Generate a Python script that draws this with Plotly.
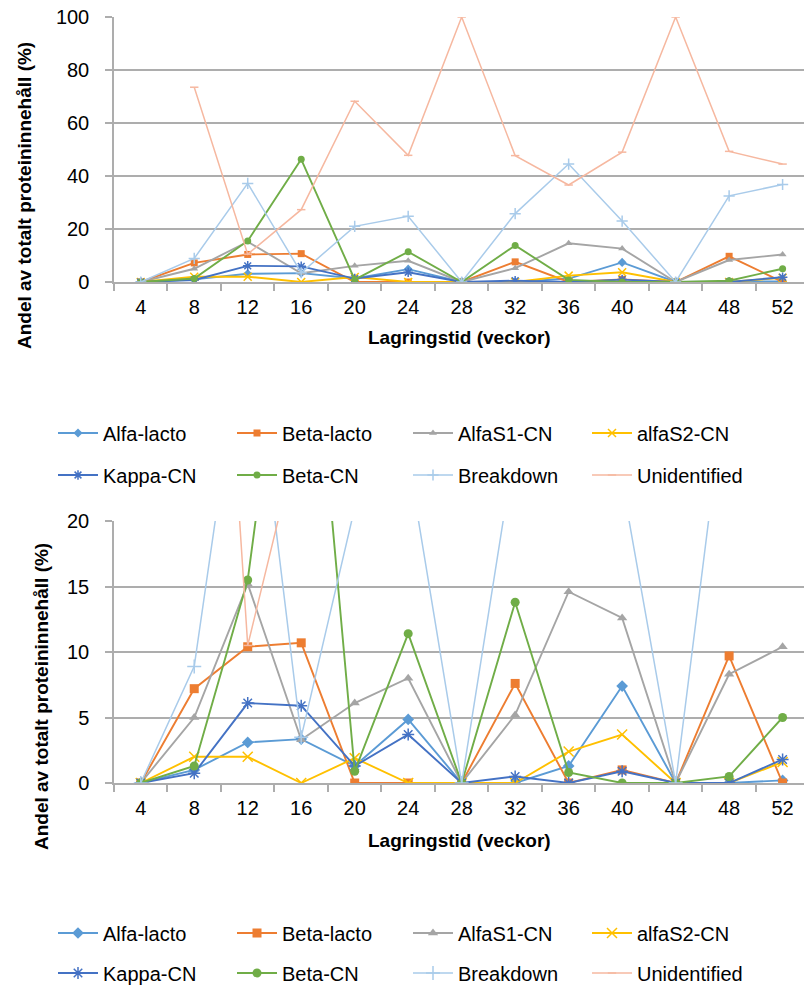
import plotly.graph_objects as go

weeks = ["4", "8", "12", "16", "20", "24", "28", "32", "36", "40", "44", "48", "52"]

alfa_lacto = [0, 1.0, 3.1, 3.35, 1.3, 4.85, 0, 0, 1.3, 7.4, 0, 0, 0.2]
beta_lacto = [0, 7.2, 10.4, 10.7, 0, 0, 0, 7.6, 0, 1.0, 0, 9.7, 0]
alfaS1_cn = [0, 5.0, 15.2, 3.3, 6.1, 8.0, 0, 5.2, 14.6, 12.6, 0, 8.3, 10.4]
alfaS2_cn = [0, 2.0, 2.0, 0, 1.9, 0, 0, 0, 2.4, 3.7, 0, 0, 1.6]
kappa_cn = [0, 0.75, 6.1, 5.9, 1.3, 3.7, 0, 0.5, 0, 0.9, 0, 0, 1.8]
beta_cn = [0, 1.3, 15.5, 46.3, 0.9, 11.4, 0, 13.8, 0.8, 0, 0, 0.5, 5.0]
breakdown = [0, 8.9, 37.2, 3.5, 21.0, 24.8, 0, 25.8, 44.5, 23.0, 0, 32.5, 36.8]
unidentified = [None, 73.5, 10.5, 27.3, 68.2, 47.8, 100, 47.7, 36.6, 49.0, 100, 49.3, 44.5]

series_names = ["Alfa-lacto", "Beta-lacto", "AlfaS1-CN", "alfaS2-CN",
                "Kappa-CN", "Beta-CN", "Breakdown", "Unidentified"]
series_values = [alfa_lacto, beta_lacto, alfaS1_cn, alfaS2_cn,
                 kappa_cn, beta_cn, breakdown, unidentified]
colors = ["#5B9BD5", "#ED7D31", "#A5A5A5", "#FFC000",
          "#4472C4", "#70AD47", "#A9CBEA", "#F6B8A0"]
symbols = ["diamond", "square", "triangle-up", "x-thin-open",
           "asterisk-open", "circle", "cross-thin-open", "line-ew-open"]

y_title = "Andel av totalt proteininnehåll (%)"
x_title = "Lagringstid (veckor)"

FONT = "Liberation Sans, Arial, sans-serif"
W, H = 804, 988
L = 114
COL_X = [53, 408]                   # left edge of each 2-item legend block
ROW_Y = [[433, 475], [933, 973]]    # legend row centres per panel

fig = go.Figure()

panels = [
    dict(xa="x", ya="y", msize=7, base=0),
    dict(xa="x2", ya="y2", msize=9, base=4),
]
legend_defs = {}
for pi, p in enumerate(panels):
    for i, (name, vals) in enumerate(zip(series_names, series_values)):
        row, col = divmod(i, 4)
        block = col // 2
        idx = p["base"] * 2 + row * 2 + block  # 0..7
        key = "legend" if idx == 0 else f"legend{idx + 1}"
        legend_defs[key] = (COL_X[block], ROW_Y[pi][row])
        sym = symbols[i]
        open_sym = sym.endswith("-open")
        lw = 1.9 if i < 6 else 1.5
        fig.add_trace(go.Scatter(
            x=weeks, y=vals, name=name, mode="lines+markers",
            xaxis=p["xa"], yaxis=p["ya"], legend=key,
            line=dict(color=colors[i], width=lw),
            marker=dict(symbol=sym, color=colors[i],
                        size=(p["msize"] + 1 if open_sym else p["msize"]) if i != 7 else 6,
                        line=dict(color=colors[i], width=1.5 if open_sym else 0)),
            connectgaps=False,
        ))

grid = "#ADADAD"
axis_common_x = dict(type="category", range=[-0.5, 12.4], showgrid=False,
                     showline=True, linecolor=grid, linewidth=1.5,
                     ticks="outside", tickson="boundaries", ticklen=7,
                     tickcolor=grid, tickwidth=1.5,
                     tickfont=dict(family=FONT, size=20, color="#000"),
                     ticklabelstandoff=6)
axis_common_y = dict(showgrid=True, gridcolor=grid, gridwidth=1.8,
                     showline=True, linecolor=grid, linewidth=1.5,
                     ticks="outside", ticklen=7, tickcolor=grid, tickwidth=1.5,
                     tickfont=dict(family=FONT, size=20, color="#000"),
                     ticklabelstandoff=12, zeroline=False)

top_dom = [1 - 282 / H, 1 - 17 / H]
bot_dom = [1 - 783 / H, 1 - 521 / H]

fig.update_layout(
    width=W, height=H,
    margin=dict(l=L, r=0, t=0, b=0, autoexpand=False),
    paper_bgcolor="white", plot_bgcolor="white",
    font=dict(family=FONT, color="#000"),
    xaxis=dict(**axis_common_x, anchor="y"),
    yaxis=dict(**axis_common_y, domain=top_dom, range=[0, 100], dtick=20, anchor="x"),
    xaxis2=dict(**axis_common_x, anchor="y2"),
    yaxis2=dict(**axis_common_y, domain=bot_dom, range=[0, 20], dtick=5, anchor="x2"),
)

leg_common = dict(orientation="h", xref="container", yref="container",
                  xanchor="left", yanchor="middle",
                  entrywidth=124, entrywidthmode="pixels", itemwidth=40,
                  font=dict(family=FONT, size=20, color="#000"),
                  bgcolor="rgba(0,0,0,0)", tracegroupgap=0)
for key, (xpix, ypix) in legend_defs.items():
    fig.update_layout(**{key: dict(**leg_common, x=xpix / W, y=1 - ypix / H)})

annotations = [
    dict(text=x_title, xc=(L + W) / 2, y=1 - 338 / H),
    dict(text=x_title, xc=(L + W) / 2, y=1 - 840 / H),
    dict(text=y_title, xc=25, y=1 - 196 / H, textangle=-90),
    dict(text=y_title, xc=41, y=1 - 697 / H, textangle=-90),
]
for a in annotations:
    xc = a.pop("xc")
    fig.add_annotation(xref="paper", yref="paper", x=(xc - L) / (W - L),
                       showarrow=False, xanchor="center", yanchor="middle",
                       font=dict(family=FONT, size=19, color="#000", weight="bold"),
                       **a)

fig.write_html("out.html")
